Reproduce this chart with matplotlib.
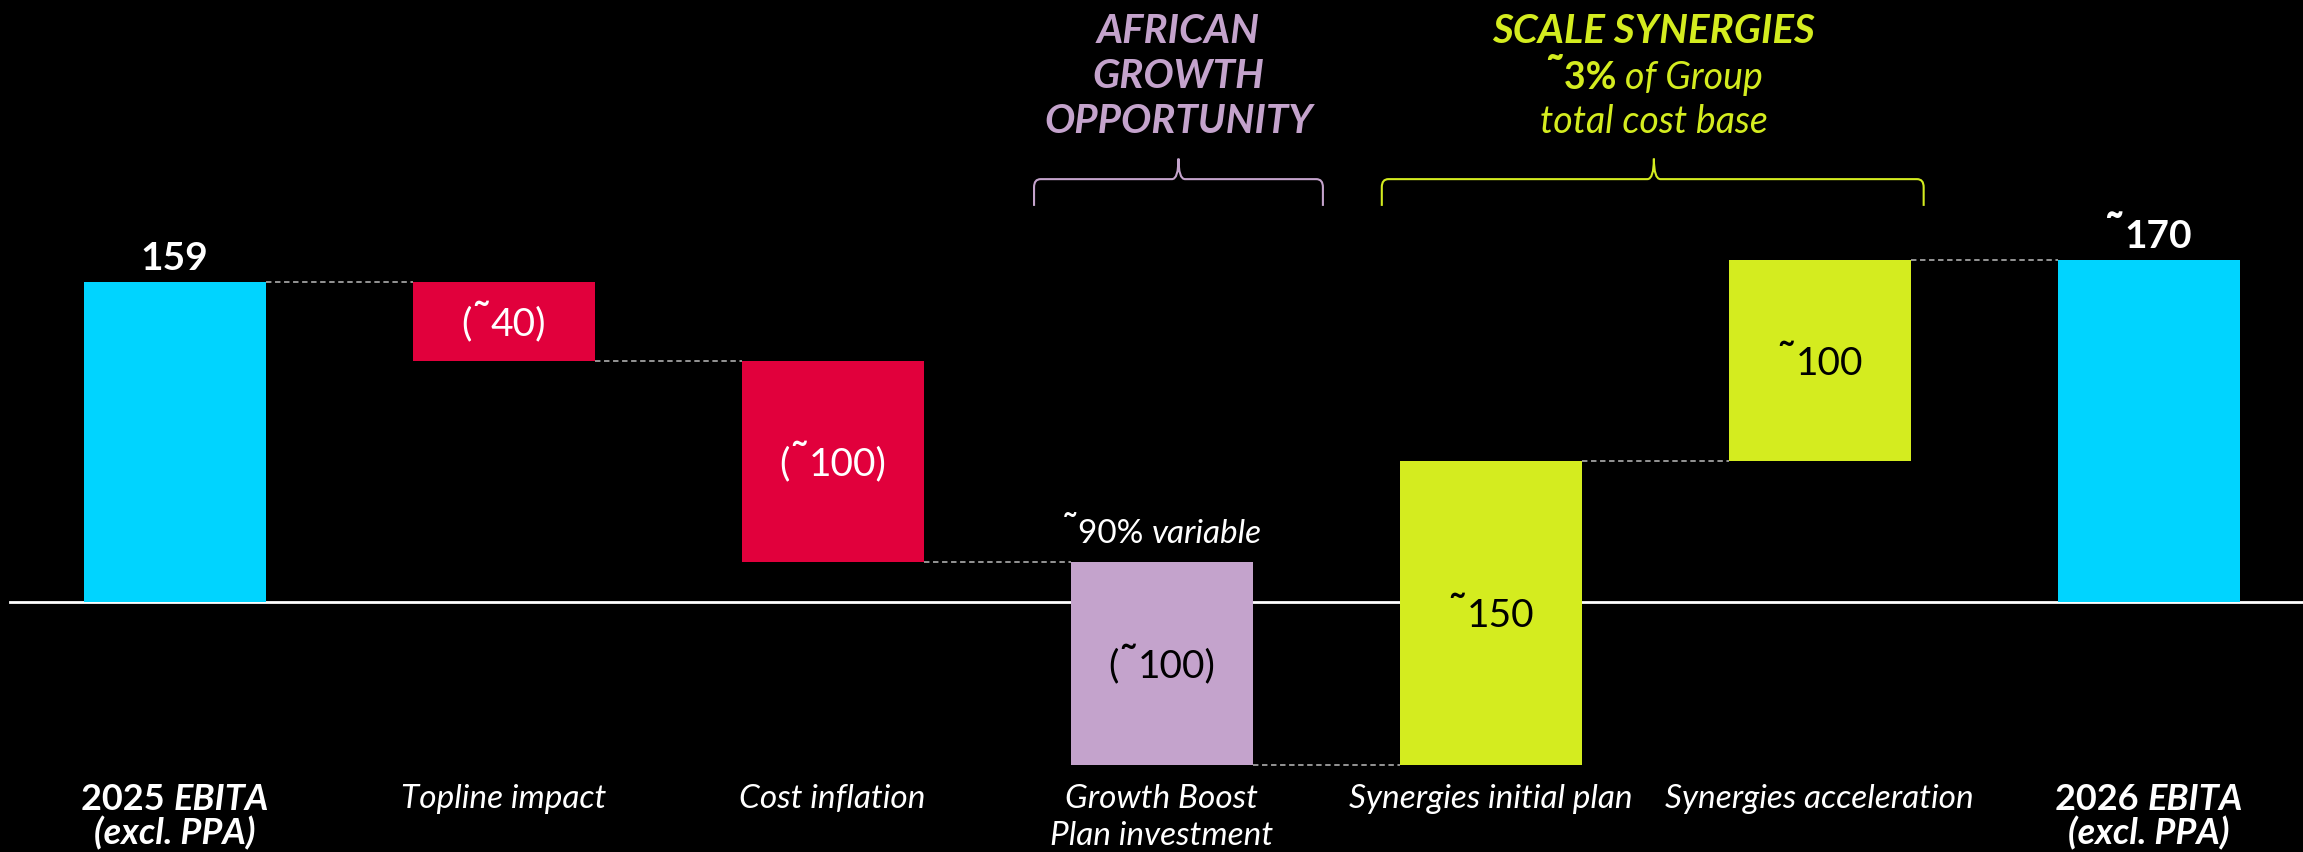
import numpy as np
import matplotlib
matplotlib.use("Agg")
import matplotlib.pyplot as plt
import matplotlib.font_manager as fm
from matplotlib.path import Path
from matplotlib.patches import PathPatch
from matplotlib.offsetbox import TextArea, HPacker, AnnotationBbox

# pick a font that exists here
names = {f.name for f in fm.fontManager.ttflist}
FONT = next(n for n in ["Lato", "Open Sans", "DejaVu Sans"] if n in names)
TILDE_SCALE = 1.25

# data
line1 = ["2025 EBITA", "Topline impact", "Cost inflation", "Growth Boost",
         "Synergies initial plan", "Synergies acceleration", "2026 EBITA"]
line2 = ["(excl. PPA)", "", "", "Plan investment", "", "", "(excl. PPA)"]
start_value = 159
steps = [-39, -100, -101, 151, 100]
end_value = 170
value_labels = ["159", "(˜40)", "(˜100)", "(˜100)", "˜150", "˜100", "˜170"]

CYAN = "#00d4ff"
RED = "#e1003c"
PURPLE = "#c4a3cc"
LIME = "#d4ec1f"
bar_colors = [CYAN, RED, RED, PURPLE, LIME, LIME, CYAN]
label_colors = ["white", "white", "white", "black", "black", "black", "white"]

# waterfall geometry
levels = [start_value] + list(start_value + np.cumsum(steps))
bottoms = [0] + levels[:-1] + [0]
heights = [start_value] + steps + [end_value]
x = np.arange(len(heights))
w = 0.553

fig = plt.figure(figsize=(23.03, 8.52), dpi=100, facecolor="black")
ax = fig.add_axes([0, 0, 1, 1])
ax.set_facecolor("black")
ax.set_xlim(-0.531, 6.469)
ax.set_ylim(-124.1, 299.2)
ax.axis("off")

# baseline
ax.plot([-0.5, 6.6], [0, 0], color="white", lw=2, zorder=1)

ax.bar(x, heights, bottom=bottoms, width=w, color=bar_colors, zorder=2)

# connectors
for i in range(len(levels)):
    ax.plot([x[i] + w / 2, x[i + 1] - w / 2], [levels[i], levels[i]],
            color="#a0a0a0", lw=1.3, ls=(0, (3, 2)), zorder=1)


def split_tilde(text, weight, style):
    # draw the tilde a bit bigger than the digits
    parts = []
    for j, chunk in enumerate(text.split("˜")):
        if j > 0:
            parts.append(("˜", weight, "normal", TILDE_SCALE))
        if chunk:
            parts.append((chunk, weight, style, 1.0))
    return parts


def mixed(xc, yb, parts, size, color, valign="baseline"):
    areas = []
    for p in parts:
        t, wt, st = p[:3]
        k = p[3] if len(p) > 3 else 1.0
        areas.append(TextArea(t, textprops=dict(color=color, fontsize=size * k, fontweight=wt,
                                                fontstyle=st, family=FONT)))
    box = HPacker(children=areas, align="baseline", pad=0, sep=0)
    if valign == "baseline":
        ab = AnnotationBbox(box, (xc, yb), xybox=(0, -0.21 * size), boxcoords="offset points",
                            frameon=False, box_alignment=(0.5, 0.0), pad=0, zorder=3)
    else:
        ab = AnnotationBbox(box, (xc, yb), frameon=False, box_alignment=(0.5, 0.5),
                            pad=0, zorder=3)
    ax.add_artist(ab)


# value labels
mixed(x[0], heights[0] + 7, split_tilde(value_labels[0], "bold", "normal"), 28, "white")
mixed(x[6], heights[6] + 6, split_tilde(value_labels[6], "bold", "normal"), 28, "white")
for i in range(1, 6):
    mid = bottoms[i] + heights[i] / 2
    mixed(x[i], mid, split_tilde(value_labels[i], "normal", "normal"), 28,
          label_colors[i], valign="center")

# category labels
for i in range(len(line1)):
    if i in (0, 6):
        mixed(x[i], -102.2, [(line1[i].split()[0] + " ", "bold", "normal"),
                             (line1[i].split()[1], "bold", "italic")], 26, "white")
        ax.text(x[i], -120.5, line2[i], ha="center", va="baseline", color="white",
                fontsize=26, fontweight="bold", fontstyle="italic", family=FONT)
    else:
        ax.text(x[i], -102.2, line1[i], ha="center", va="baseline", color="white",
                fontsize=24, fontweight="normal", fontstyle="italic", family=FONT)
        if line2[i]:
            ax.text(x[i], -120.5, line2[i], ha="center", va="baseline", color="white",
                    fontsize=24, fontweight="normal", fontstyle="italic", family=FONT)

# note above growth bar
mixed(x[3], 29.4, [("˜", "normal", "normal", TILDE_SCALE), ("90% ", "normal", "normal"),
                   ("variable", "normal", "italic")], 24, "white")

# headers
for yb, t in zip([277.8, 255.4, 233.0], ["AFRICAN", "GROWTH", "OPPORTUNITY"]):
    ax.text(3.051, yb, t, ha="center", va="baseline", color=PURPLE, fontsize=29,
            fontweight="bold", fontstyle="italic", family=FONT)
ax.text(4.496, 277.8, "SCALE SYNERGIES", ha="center", va="baseline", color=LIME,
        fontsize=29, fontweight="bold", fontstyle="italic", family=FONT)
mixed(4.496, 254.9, [("˜", "bold", "normal", TILDE_SCALE), ("3% ", "bold", "normal"),
                     ("of Group", "normal", "italic")], 27, LIME)
ax.text(4.496, 233.0, "total cost base", ha="center", va="baseline", color=LIME,
        fontsize=27, fontweight="normal", fontstyle="italic", family=FONT)


def brace(x0, x1, xc, yh, ylow, ytip, color):
    rx, ry = 0.02, 4
    verts = [(x0, ylow), (x0, yh - ry), (x0, yh), (x0 + rx, yh),
             (xc - rx, yh), (xc, yh), (xc, ytip),
             (xc, yh), (xc + rx, yh),
             (x1 - rx, yh), (x1, yh), (x1, yh - ry), (x1, ylow)]
    codes = [Path.MOVETO, Path.LINETO, Path.CURVE3, Path.CURVE3,
             Path.LINETO, Path.CURVE3, Path.CURVE3,
             Path.CURVE3, Path.CURVE3,
             Path.LINETO, Path.CURVE3, Path.CURVE3, Path.LINETO]
    ax.add_patch(PathPatch(Path(verts, codes), fill=False, edgecolor=color, lw=1.5))


brace(2.612, 3.490, 3.051, 210.2, 196.9, 220.4, PURPLE)
brace(3.669, 5.316, 4.496, 210.2, 196.9, 220.4, LIME)

fig.savefig("out.png", dpi=100, facecolor="black")
